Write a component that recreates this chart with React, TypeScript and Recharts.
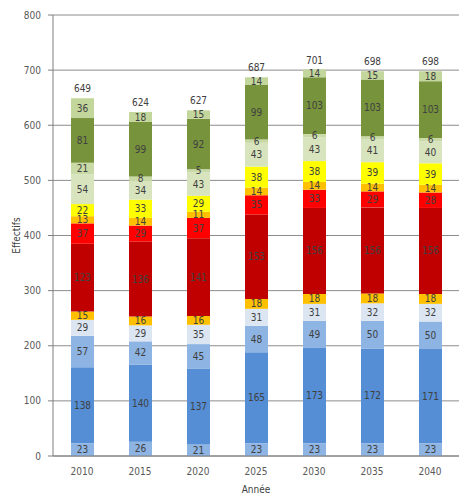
import { BarChart, Bar, XAxis, YAxis, CartesianGrid, LabelList } from 'recharts'

const years = ['2010', '2015', '2020', '2025', '2030', '2035', '2040']
const yTicks = [0, 100, 200, 300, 400, 500, 600, 700, 800]

// segments, bottom to top
const s1 = [23, 26, 21, 23, 23, 23, 23]
const s2 = [138, 140, 137, 165, 173, 172, 171]
const s3 = [57, 42, 45, 48, 49, 50, 50]
const s4 = [29, 29, 35, 31, 31, 32, 32]
const s5 = [15, 16, 16, 18, 18, 18, 18]
const s6 = [123, 136, 141, 153, 156, 156, 156]
const s7 = [37, 29, 37, 35, 33, 29, 28]
const s8 = [13, 14, 11, 14, 14, 14, 14]
const s9 = [22, 33, 29, 38, 38, 39, 39]
const s10 = [54, 34, 43, 43, 43, 41, 40]
const s11 = [21, 8, 5, 6, 6, 6, 6]
const s12 = [81, 99, 92, 99, 103, 103, 103]
const s13 = [36, 18, 15, 14, 14, 15, 18]
const totals = [649, 624, 627, 687, 701, 698, 698]

const series = [s1, s2, s3, s4, s5, s6, s7, s8, s9, s10, s11, s12, s13]
const colors = [
  '#8DB4E2', '#558ED5', '#8DB4E2', '#DCE6F2', '#FFC000', '#C00000', '#FF0000',
  '#FFC000', '#FFFF00', '#D7E4BD', '#C9DAA6', '#77933C', '#C3D69B',
]

const data = years.map((y, i) => {
  const row: any = { year: y, total: totals[i] }
  series.forEach((s, k) => { row['s' + (k + 1)] = s[i] })
  return row
})

const font = '"Liberation Sans Narrow", "DejaVu Sans Condensed", Arial, sans-serif'

const TotalLabel = (props: any) => {
  const { x, y, width, index } = props
  return (
    <text x={x + width / 2} y={y - 6} textAnchor="middle" fontSize={10} fill="#404040" fontFamily={font}>
      {totals[index]}
    </text>
  )
}

export default function App() {
  return (
    <div style={{ position: 'fixed', left: 0, top: 0, background: '#fff' }}>
      <BarChart width={459} height={503} data={data} margin={{ top: 15, right: 0, left: 0, bottom: 0 }} barSize={23}>
        <CartesianGrid vertical={false} stroke="#8C8C8C" />
        <XAxis
          dataKey="year"
          height={47}
          tickLine={false}
          axisLine={{ stroke: '#7F7F7F' }}
          tick={{ fill: '#595959', fontSize: 10, fontFamily: font }}
          tickMargin={6}
          label={{ value: 'Année', position: 'insideBottom', offset: 10, fill: '#404040', fontSize: 10, fontFamily: font }}
        />
        <YAxis
          width={53}
          domain={[0, 800]}
          ticks={yTicks}
          tickSize={5}
          tickMargin={7}
          axisLine={{ stroke: '#7F7F7F' }}
          tickLine={{ stroke: '#7F7F7F' }}
          tick={{ fill: '#595959', fontSize: 10, fontFamily: font }}
          label={{ value: 'Effectifs', angle: -90, position: 'center', dx: -10, fill: '#404040', fontSize: 10, fontFamily: font }}
        />
        {series.map((_, k) => (
          <Bar key={k} dataKey={'s' + (k + 1)} stackId="a" fill={colors[k]} isAnimationActive={false}>
            <LabelList dataKey={'s' + (k + 1)} position="center" fill="#404040" fontSize={10} fontFamily={font} />
            {k === series.length - 1 && <LabelList dataKey="total" content={<TotalLabel />} />}
          </Bar>
        ))}
      </BarChart>
    </div>
  )
}
